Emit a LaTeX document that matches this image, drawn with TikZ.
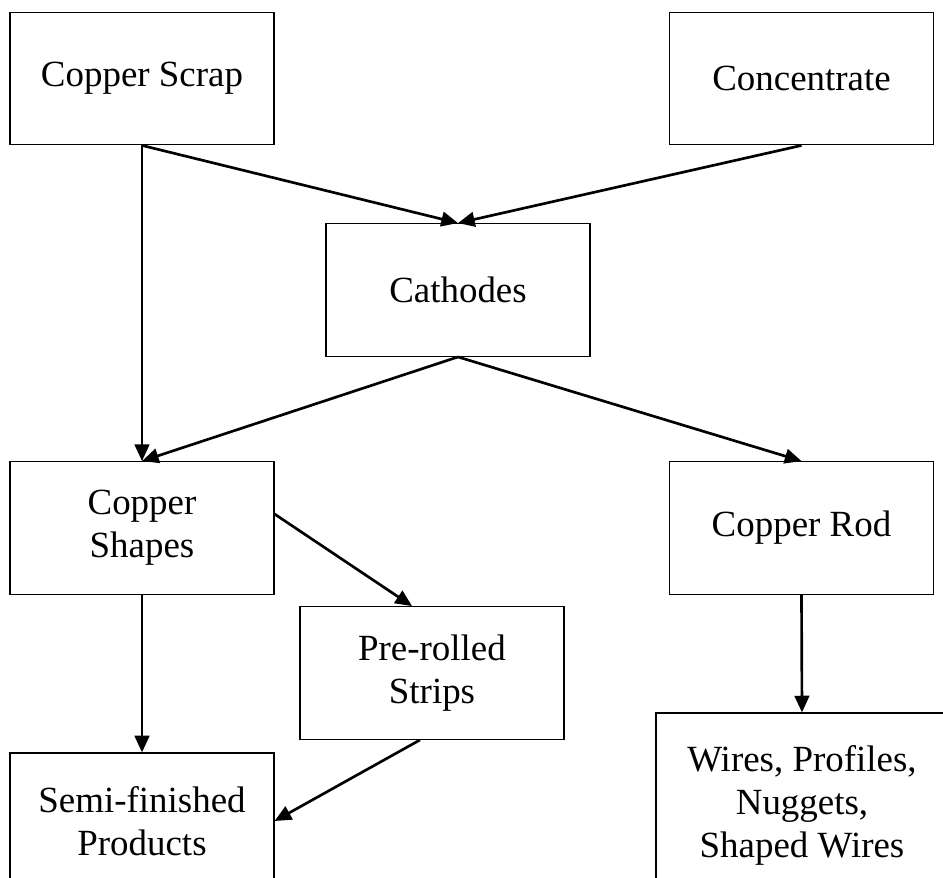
\documentclass[tikz,border=0pt]{standalone}
\usepackage{fontspec}
\setmainfont{Liberation Serif}
\usepackage{tikz}
\usetikzlibrary{arrows.meta, positioning}

\begin{document}
\begin{tikzpicture}[x=0.75pt, y=-0.75pt,
		box/.style={draw, line width=0.9pt, minimum width=198pt, minimum height=99.5pt,
			align=center, inner sep=0pt, font=\fontsize{27.7pt}{32.3pt}\selectfont},
		flow/.style={line width=2pt, -{Triangle[length=12.5pt, width=11pt]}}]
			\clip (0,0) rectangle (943,878);
			
			% Boxes
			\node[box] (scrap) at (142, 78.5) {Copper Scrap};
			\node[box] (conc) at (801.5, 78.5) {Concentrate};
			\node[box] (cath) at (458, 290) {Cathodes};
			\node[box] (shapes) at (142, 528) {Copper\\Shapes};
			\node[box] (rod) at (801.5, 528) {Copper Rod};
			\node[box] (strips) at (432, 673) {Pre-rolled\\Strips};
			\node[box, minimum height=102pt] (semi) at (142, 821) {Semi-finished\\Products};
			\node[box, minimum width=219pt, minimum height=138pt] (wires) at (802, 805) {Wires, Profiles,\\Nuggets,\\Shaped Wires};
			
			% Arrows
			\foreach \a/\b in {scrap.south/shapes.north, scrap.south/cath.north, conc.south/cath.north,
				cath.south/shapes.north, cath.south/rod.north, shapes.south/semi.north, rod.south/wires.north} {
				\draw[flow] (\a) -- (\b);
			}
			\draw[flow] (shapes.6) -- ([xshift=-15pt]strips.north);
			\draw[flow] ([xshift=-9pt]strips.south) -- (semi.east);
		\end{tikzpicture}
\end{document}
